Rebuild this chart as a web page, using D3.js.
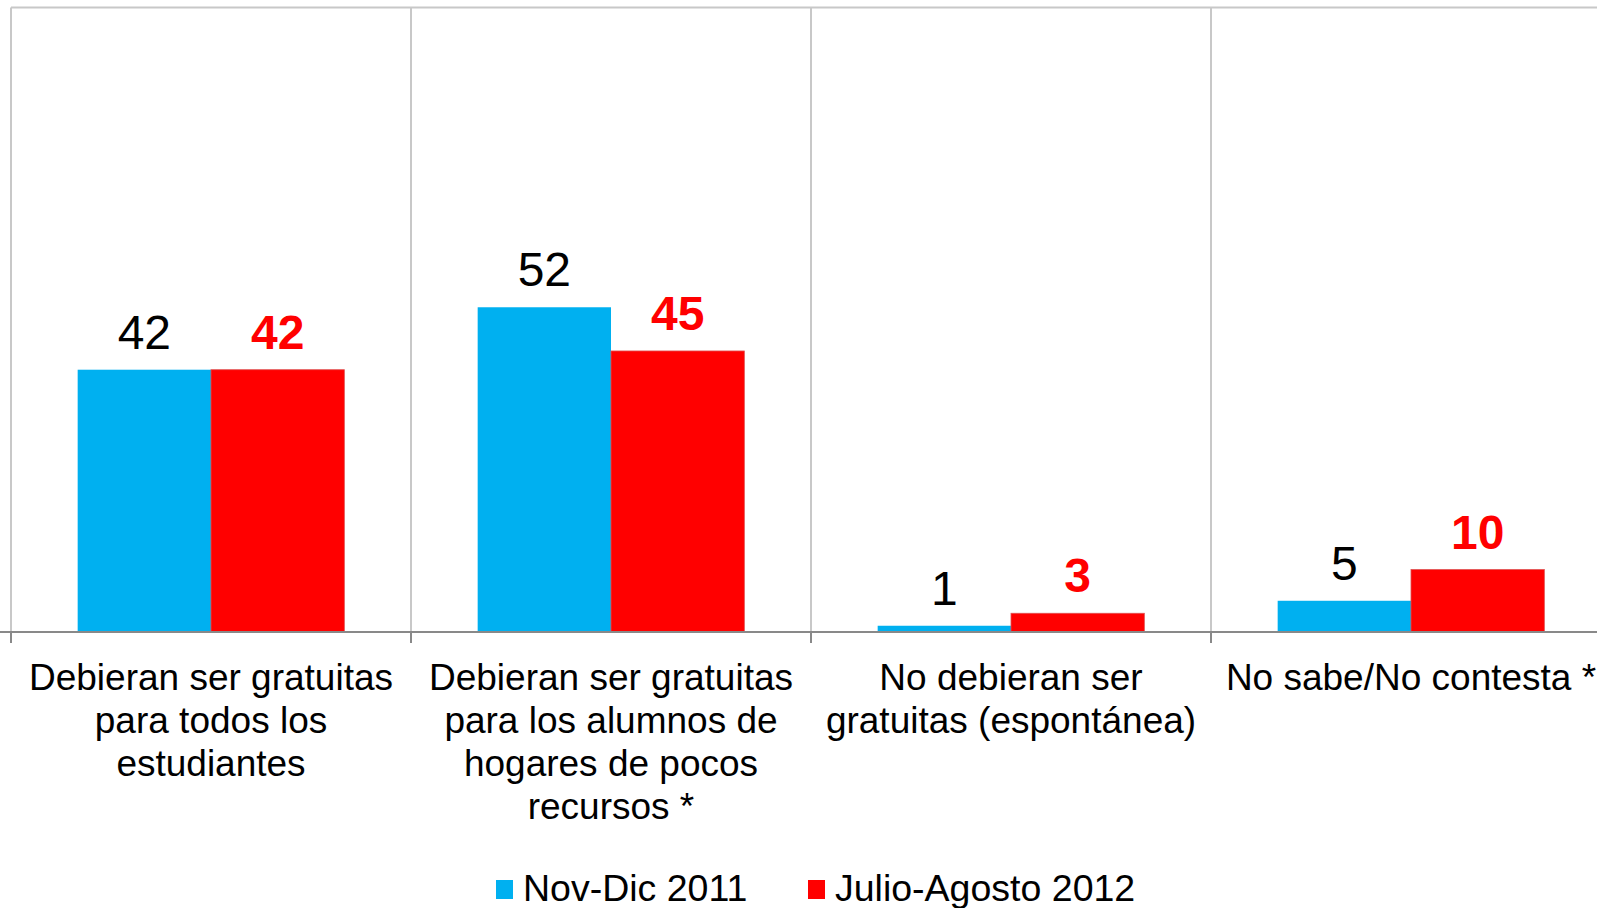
<!DOCTYPE html>
<html>
<head>
<meta charset="utf-8">
<script src="https://cdn.jsdelivr.net/npm/d3@7"></script>
<style>
  html, body { margin: 0; padding: 0; background: #fff; overflow: hidden; }
  svg { display: block; font-family: "Liberation Sans", Arial, sans-serif; }
</style>
</head>
<body>
<svg id="chart" width="1597" height="908"></svg>
<script>
const categories = [
  "Debieran ser gratuitas para todos los estudiantes",
  "Debieran ser gratuitas para los alumnos de hogares de pocos recursos *",
  "No debieran ser gratuitas (espontánea)",
  "No sabe/No contesta *"
];
const seriesNames = ["Nov-Dic 2011", "Julio-Agosto 2012"];
const novDic2011 = [42, 52, 1, 5];
const julioAgosto2012 = [42, 45, 3, 10];
const seriesColors = ["#00B0F0", "#FF0000"];

const data = categories.map((c, i) => ({ cat: c, values: [novDic2011[i], julioAgosto2012[i]] }));

let margin = ({top: 7.5, left: 11});
let plotBottom = 632;
let step = 400;

const svg = d3.select("#chart");

let x = d3.scaleBand()
    .domain(categories)
    .range([margin.left, margin.left + step * categories.length])
    .paddingInner(0).paddingOuter(0);

let xs = d3.scaleBand()
    .domain(seriesNames)
    .range([0, x.bandwidth()])
    .paddingInner(0).paddingOuter(0.5);

let y = d3.scaleLinear()
    .domain([0, 100])
    .range([plotBottom, margin.top]);

// frame + vertical gridlines at category boundaries
svg.append("line")
    .attr("x1", margin.left).attr("x2", 1597)
    .attr("y1", y(100)).attr("y2", y(100))
    .attr("stroke", "#C8C8C8").attr("stroke-width", 2);

svg.append("g")
    .selectAll("line").data(categories).enter().append("line")
    .attr("x1", d => x(d)).attr("x2", d => x(d))
    .attr("y1", y(100)).attr("y2", y(0))
    .attr("stroke", "#C8C8C8").attr("stroke-width", 2);

// bars
const groups = svg.append("g")
    .selectAll("g").data(data).enter().append("g")
    .attr("transform", d => `translate(${x(d.cat)},0)`);

groups.selectAll("rect")
    .data(d => d.values.map((v, i) => ({ v: v, s: seriesNames[i], i: i })))
    .enter().append("rect")
    .attr("x", d => xs(d.s))
    .attr("y", d => y(d.v))
    .attr("width", xs.bandwidth())
    .attr("height", d => y(0) - y(d.v))
    .attr("fill", d => seriesColors[d.i])
    .attr("stroke", d => d.i === 1 ? "#E05050" : "none")
    .attr("stroke-width", 0.8);

// value labels
groups.selectAll("text")
    .data(d => d.values.map((v, i) => ({ v: v, s: seriesNames[i], i: i })))
    .enter().append("text")
    .attr("x", d => xs(d.s) + xs.bandwidth() / 2)
    .attr("y", d => y(d.v) - 21)
    .attr("text-anchor", "middle")
    .attr("font-size", 48)
    .attr("font-weight", d => d.i === 1 ? "bold" : "normal")
    .attr("fill", d => d.i === 1 ? "#FF0000" : "#000")
    .text(d => d.v);

// x axis
svg.append("line")
    .attr("x1", 0).attr("x2", 1597)
    .attr("y1", y(0)).attr("y2", y(0))
    .attr("stroke", "#898989").attr("stroke-width", 2);

svg.append("g")
    .selectAll("line").data(categories).enter().append("line")
    .attr("x1", d => x(d)).attr("x2", d => x(d))
    .attr("y1", y(0)).attr("y2", y(0) + 11)
    .attr("stroke", "#898989").attr("stroke-width", 2);

// category labels, wrapped
const labels = svg.append("g")
    .selectAll("text").data(categories).enter().append("text")
    .attr("x", d => x(d) + x.bandwidth() / 2)
    .attr("y", 690)
    .attr("text-anchor", "middle")
    .attr("font-size", 37)
    .attr("fill", "#000");

labels.each(function(d) {
    const t = d3.select(this);
    const words = d.split(" ");
    let line = [];
    let tspan = t.append("tspan").attr("x", t.attr("x")).attr("dy", 0);
    words.forEach(w => {
        line.push(w);
        tspan.text(line.join(" "));
        if (tspan.node().getComputedTextLength() > 385 && line.length > 1) {
            line.pop();
            tspan.text(line.join(" "));
            line = [w];
            tspan = t.append("tspan").attr("x", t.attr("x")).attr("dy", 43).text(w);
        }
    });
});

// legend
const legendX = [496, 808];
const items = svg.append("g")
    .selectAll("g").data(seriesNames).enter().append("g")
    .attr("transform", (d, i) => `translate(${legendX[i]},0)`);

items.append("rect")
    .attr("x", 0).attr("y", 880)
    .attr("width", 17).attr("height", 19)
    .attr("fill", (d, i) => seriesColors[i]);

items.append("text")
    .attr("x", 27)
    .attr("y", 901)
    .attr("font-size", 37.5)
    .attr("fill", "#000")
    .text(d => d);
</script>
</body>
</html>
